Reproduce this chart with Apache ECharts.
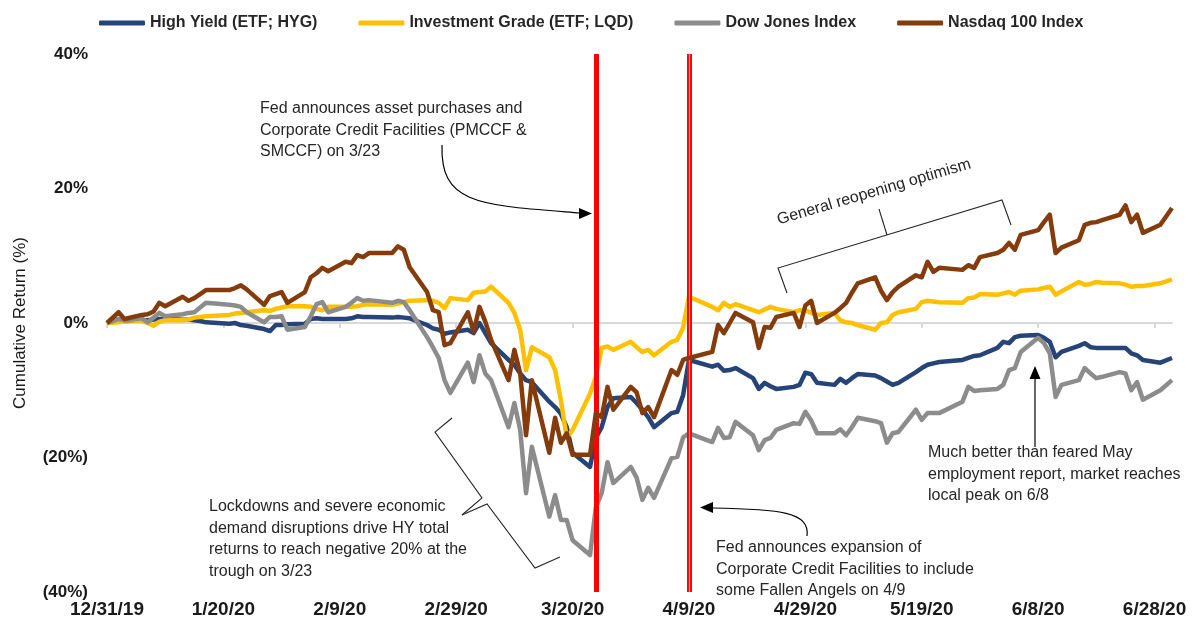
<!DOCTYPE html>
<html><head><meta charset="utf-8">
<script src="https://cdn.jsdelivr.net/npm/echarts@6/dist/echarts.min.js"></script>
<style>html,body{margin:0;padding:0;background:#fff}#c{width:1197px;height:627px}</style>
</head><body><div id="c"></div>
<script>
// Day offsets are counted from 12/31/19 (day 0); x axis ticks every 20 days.
const xTickLabels = ['12/31/19','1/20/20','2/9/20','2/29/20','3/20/20','4/9/20','4/29/20','5/19/20','6/8/20','6/28/20'];
const yTickLabels = ['(40%)','(20%)','0%','20%','40%'];
const seriesNames = ['High Yield (ETF; HYG)','Investment Grade (ETF; LQD)','Dow Jones Index','Nasdaq 100 Index'];
const eventDays = [84, 100]; // Fed 3/23 announcement line, Fed 4/9 expansion line

const highYield = [[0,0],[2,0.4],[3,0.3],[6,0.4],[7,0.4],[8,0.5],[9,0.6],[10,0.6],[13,0.5],[14,0.5],[15,0.4],[16,0.3],[17,0.1],[21,-0.1],[22,0.0],[23,-0.3],[24,-0.4],[27,-0.9],[28,-1.2],[29,-0.3],[30,-0.3],[31,-0.2],[34,-0.1],[35,0.6],[36,0.7],[37,0.6],[38,0.6],[41,0.6],[42,0.7],[43,1.0],[44,0.9],[45,0.9],[49,0.8],[50,0.9],[51,0.8],[52,0.7],[55,-0.3],[56,-0.8],[57,-1.0],[58,-1.6],[59,-1.4],[62,-1.0],[63,-1.5],[64,0.0],[65,-1.5],[66,-3.0],[69,-5.5],[70,-6.2],[71,-7.5],[72,-8.5],[73,-8.8],[76,-11.7],[77,-12.5],[78,-13.5],[79,-15.5],[80,-19.3],[83,-21.4],[84,-17.1],[85,-15.5],[86,-12.5],[87,-11.2],[90,-11.0],[91,-11.9],[92,-12.9],[93,-14.0],[94,-15.5],[97,-13.4],[98,-13.2],[99,-10.7],[100,-5.5],[104,-6.5],[105,-6.2],[106,-7.1],[107,-7.0],[108,-6.7],[111,-8.2],[112,-9.8],[113,-8.9],[114,-9.4],[115,-9.8],[118,-9.5],[119,-9.2],[120,-7.4],[121,-7.6],[122,-8.9],[125,-9.2],[126,-8.3],[127,-8.9],[128,-8.2],[129,-7.6],[132,-7.8],[133,-8.2],[134,-8.7],[135,-9.2],[136,-8.9],[139,-7.3],[140,-6.7],[141,-6.2],[142,-6.0],[143,-5.8],[147,-5.5],[148,-5.2],[149,-4.9],[150,-4.8],[153,-3.7],[154,-2.8],[155,-3.0],[156,-2.1],[157,-1.9],[160,-1.8],[161,-2.2],[162,-2.8],[163,-5.1],[164,-4.3],[167,-3.4],[168,-3.0],[169,-3.6],[170,-3.7],[171,-3.7],[174,-3.7],[175,-3.7],[176,-4.5],[177,-4.8],[178,-5.5],[181,-5.9],[183,-5.2]];

const investmentGrade = [[0,0],[2,0.1],[3,0.4],[6,0.3],[7,0.0],[8,-0.4],[9,0.2],[10,0.4],[13,0.4],[14,0.5],[15,0.8],[16,0.9],[17,1.0],[21,1.2],[22,1.4],[23,1.5],[24,1.6],[27,1.9],[28,1.8],[29,2.1],[30,2.3],[31,2.5],[34,2.5],[35,2.4],[36,2.1],[37,1.9],[38,2.4],[41,2.4],[42,2.4],[43,2.5],[44,2.7],[45,2.8],[49,2.7],[50,2.9],[51,3.1],[52,3.3],[55,3.4],[56,3.3],[57,3.0],[58,2.2],[59,3.7],[62,3.4],[63,4.5],[64,4.6],[65,4.7],[66,5.4],[69,3.0],[70,1.5],[71,-1.0],[72,-7.0],[73,-3.6],[76,-5.1],[77,-7.0],[78,-11.5],[79,-17.1],[80,-15.9],[83,-10.5],[84,-8.0],[85,-3.7],[86,-3.5],[87,-4.0],[90,-2.8],[91,-3.6],[92,-4.3],[93,-4.0],[94,-4.8],[97,-2.8],[98,-2.5],[99,-0.7],[100,3.9],[104,2.4],[105,1.9],[106,3.0],[107,2.4],[108,2.8],[111,1.9],[112,1.6],[113,2.0],[114,2.4],[115,2.1],[118,1.6],[119,1.9],[120,1.9],[121,1.5],[122,1.2],[125,1.5],[126,0.4],[127,0.1],[128,0.0],[129,-0.3],[132,-1.0],[133,0.0],[134,0.1],[135,1.2],[136,1.6],[139,2.1],[140,3.1],[141,3.3],[142,3.2],[143,3.1],[147,3.0],[148,3.7],[149,3.8],[150,4.3],[153,4.2],[154,4.4],[155,4.6],[156,4.2],[157,4.8],[160,5.0],[161,5.2],[162,5.4],[163,4.2],[164,4.7],[167,6.1],[168,5.7],[169,5.8],[170,6.1],[171,6.0],[174,5.9],[175,5.7],[176,5.4],[177,5.5],[178,5.5],[181,5.9],[183,6.5]];

const dowJones = [[0,0],[2,0.6],[3,0.4],[6,0.7],[7,0.1],[8,0.8],[9,1.5],[10,1.0],[13,1.3],[14,1.5],[15,1.6],[16,2.3],[17,3.0],[21,2.7],[22,2.6],[23,2.4],[24,1.6],[27,0.1],[28,0.9],[29,0.9],[30,1.0],[31,-1.0],[34,-0.6],[35,1.0],[36,2.8],[37,3.1],[38,1.6],[41,2.4],[42,3.0],[43,3.7],[44,3.3],[45,3.4],[49,3.0],[50,3.3],[51,3.1],[52,1.9],[55,-2.1],[56,-3.6],[57,-5.2],[58,-8.5],[59,-10.4],[62,-5.9],[63,-8.8],[64,-4.8],[65,-7.5],[66,-8.5],[69,-15.5],[70,-11.9],[71,-15.9],[72,-25.3],[73,-18.4],[76,-28.8],[77,-25.6],[78,-29.3],[79,-29.3],[80,-32.3],[83,-34.5],[84,-27.4],[85,-25.3],[86,-20.7],[87,-23.8],[90,-21.4],[91,-23.0],[92,-26.3],[93,-24.5],[94,-26.0],[97,-20.1],[98,-19.9],[99,-17.0],[100,-16.4],[104,-17.7],[105,-15.6],[106,-17.1],[107,-17.0],[108,-14.7],[111,-16.7],[112,-18.9],[113,-17.4],[114,-17.1],[115,-15.9],[118,-14.9],[119,-15.0],[120,-13.2],[121,-14.5],[122,-16.4],[125,-16.4],[126,-15.8],[127,-16.7],[128,-15.5],[129,-14.1],[132,-14.6],[133,-14.9],[134,-17.8],[135,-16.4],[136,-16.2],[139,-12.9],[140,-14.4],[141,-13.4],[142,-13.4],[143,-13.4],[147,-11.7],[148,-9.5],[149,-10.1],[150,-10.0],[153,-9.8],[154,-9.2],[155,-7.0],[156,-6.7],[157,-4.3],[160,-2.2],[161,-3.0],[162,-4.5],[163,-11.0],[164,-9.2],[167,-8.5],[168,-6.7],[169,-7.5],[170,-8.2],[171,-8.0],[174,-7.3],[175,-7.5],[176,-10.0],[177,-8.8],[178,-11.4],[181,-10.0],[183,-8.5]];

const nasdaq100 = [[0,0],[2,1.6],[3,0.6],[6,1.2],[7,1.3],[8,1.7],[9,3.0],[10,2.5],[13,3.9],[14,3.3],[15,3.7],[16,4.3],[17,4.9],[21,4.9],[22,5.2],[23,5.6],[24,5.0],[27,2.7],[28,4.0],[29,4.3],[30,4.6],[31,3.0],[34,4.6],[35,6.8],[36,7.4],[37,8.2],[38,7.7],[41,9.1],[42,8.9],[43,10.1],[44,9.8],[45,10.4],[49,10.4],[50,11.4],[51,10.9],[52,8.3],[55,4.6],[56,1.9],[57,1.6],[58,-3.3],[59,-3.0],[62,1.6],[63,-1.3],[64,2.4],[65,0.2],[66,-2.5],[69,-8.5],[70,-4.0],[71,-7.5],[72,-16.7],[73,-8.5],[76,-19.3],[77,-14.1],[78,-17.8],[79,-16.4],[80,-19.6],[83,-19.6],[84,-13.4],[85,-14.0],[86,-9.5],[87,-12.9],[90,-9.5],[91,-10.3],[92,-13.4],[93,-12.5],[94,-14.0],[97,-7.0],[98,-7.7],[99,-5.5],[100,-5.2],[104,-4.3],[105,-0.3],[106,-1.5],[107,0.0],[108,1.5],[111,0.1],[112,-3.7],[113,-0.6],[114,-0.7],[115,0.9],[118,1.5],[119,-0.6],[120,2.6],[121,3.3],[122,0.0],[125,1.5],[126,2.2],[127,3.0],[128,4.5],[129,5.9],[132,6.8],[133,4.8],[134,3.4],[135,4.6],[136,5.4],[139,7.1],[140,6.8],[141,9.1],[142,7.6],[143,8.2],[147,7.9],[148,8.6],[149,8.2],[150,9.8],[153,10.4],[154,10.9],[155,11.9],[156,10.9],[157,13.1],[160,13.8],[161,15.0],[162,16.1],[163,10.4],[164,11.2],[167,12.3],[168,14.6],[169,14.9],[170,15.0],[171,15.3],[174,16.1],[175,17.5],[176,15.0],[177,16.1],[178,13.4],[181,14.6],[183,17.1]];

const seriesData = [highYield, investmentGrade, dowJones, nasdaq100];
const colors = ['#264478', '#ffc000', '#8c8c8c', '#843c0c'];
const FONT = '"Liberation Sans", Arial, sans-serif';
const tickValues = xTickLabels.map((_, i) => i * 20);

const chart = echarts.init(document.getElementById('c'), null, {renderer: 'canvas'});

const series = seriesData.map((d, i) => ({
  name: seriesNames[i],
  type: 'line',
  data: d,
  showSymbol: false,
  symbol: 'none',
  lineStyle: {width: 4.5, color: colors[i], join: 'round'},
  itemStyle: {color: colors[i]},
  z: 2 + i
}));
series[0].markLine = {
  silent: true,
  symbol: ['none', 'none'],
  label: {show: false},
  animation: false,
  data: [
    {xAxis: eventDays[0], lineStyle: {color: '#ff0000', width: 5, type: 'solid'}},
    {xAxis: eventDays[1], lineStyle: {color: '#ff0000', width: 5, type: 'solid'}}
  ]
};
series.push({
  type: 'line', data: [], silent: true,
  markLine: {
    silent: true, symbol: ['none', 'none'], label: {show: false}, animation: false,
    data: [{xAxis: eventDays[1], lineStyle: {color: '#ff9a70', width: 1.2, type: 'solid'}}]
  }
});

const txt = (x, y, text, extra) => Object.assign({
  type: 'text', x, y, z: 100,
  style: {text, fontSize: 16, fontFamily: FONT, fill: '#262626', lineHeight: 21.5, verticalAlign: 'top'}
}, extra || {});
const stroke = {stroke: '#262626', lineWidth: 1.1, fill: null};

chart.setOption({
  animation: false,
  backgroundColor: '#fff',
  color: colors,
  grid: {left: 107, right: 25, top: 54, bottom: 35, containLabel: false},
  legend: {
    left: 94, top: 10, itemWidth: 46, itemHeight: 5, itemGap: 41,
    icon: 'roundRect',
    textStyle: {fontFamily: FONT, fontSize: 16, fontWeight: 'bold', color: '#262626'},
    data: seriesNames
  },
  xAxis: [{
    type: 'value', min: 0, max: 183, interval: 20, position: 'bottom',
    axisLine: {show: true, onZero: true, lineStyle: {color: '#d9d9d9', width: 2}},
    axisTick: {show: true, length: 5, customValues: tickValues, lineStyle: {color: '#d9d9d9', width: 2}},
    axisLabel: {show: false},
    splitLine: {show: false}
  }, {
    type: 'value', min: 0, max: 183, interval: 20, position: 'bottom',
    axisLine: {show: false, onZero: false},
    axisTick: {show: false},
    splitLine: {show: false},
    axisLabel: {
      show: true, margin: 8, customValues: tickValues,
      fontFamily: FONT, fontSize: 19, fontWeight: 'bold', color: '#1a1a1a',
      formatter: v => xTickLabels[Math.round(v / 20)] || ''
    }
  }],
  yAxis: {
    type: 'value', min: -40, max: 40, interval: 20,
    name: 'Cumulative Return (%)', nameLocation: 'middle', nameGap: 78,
    nameTextStyle: {fontFamily: FONT, fontSize: 17, color: '#1a1a1a'},
    axisLine: {show: false}, axisTick: {show: false}, splitLine: {show: false},
    axisLabel: {
      margin: 19, fontFamily: FONT, fontSize: 17, fontWeight: 'bold', color: '#1a1a1a',
      formatter: v => yTickLabels[Math.round((v + 40) / 20)]
    }
  },
  series,
  graphic: [
    txt(260, 98, 'Fed announces asset purchases and\nCorporate Credit Facilities (PMCCF &\nSMCCF) on 3/23'),
    {type: 'bezierCurve', z: 100, shape: {x1: 442, y1: 145, cpx1: 440, cpy1: 205, cpx2: 480, cpy2: 205, x2: 580, y2: 213}, style: {stroke: '#000', lineWidth: 1.2, fill: null}},
    {type: 'polygon', z: 100, shape: {points: [[592, 213.5], [579, 208], [579, 219]]}, style: {fill: '#000'}},

    {type: 'text', z: 100, x: 874, y: 192, rotation: 0.285,
      style: {text: 'General reopening optimism', fontSize: 16, fontFamily: FONT, fill: '#262626', align: 'center', verticalAlign: 'middle'}},
    {type: 'polyline', z: 100, shape: {points: [[787, 293], [778, 268], [1002, 200], [1011, 225]]}, style: stroke},
    {type: 'polyline', z: 100, shape: {points: [[887, 235], [879, 209]]}, style: stroke},

    txt(209, 496, 'Lockdowns and severe economic\ndemand disruptions drive HY total\nreturns to reach negative 20% at the\ntrough on 3/23'),
    {type: 'polyline', z: 100, shape: {points: [[452, 418], [435, 432], [482, 498], [462, 515]]}, style: stroke},
    {type: 'polyline', z: 100, shape: {points: [[462, 515], [487, 504], [535, 568], [560, 557]]}, style: stroke},

    txt(716, 537, 'Fed announces expansion of\nCorporate Credit Facilities to include\nsome Fallen Angels on 4/9'),
    {type: 'bezierCurve', z: 100, shape: {x1: 807, y1: 536, cpx1: 810, cpy1: 512, cpx2: 780, cpy2: 509, x2: 712, y2: 508}, style: {stroke: '#000', lineWidth: 1.2, fill: null}},
    {type: 'polygon', z: 100, shape: {points: [[700, 507.5], [713, 502], [713, 513]]}, style: {fill: '#000'}},

    txt(928, 442, 'Much better than feared May\nemployment report, market reaches\nlocal peak on 6/8'),
    {type: 'line', z: 100, shape: {x1: 1035, y1: 447, x2: 1035, y2: 378}, style: {stroke: '#000', lineWidth: 1.2}},
    {type: 'polygon', z: 100, shape: {points: [[1035, 366], [1029.5, 379], [1040.5, 379]]}, style: {fill: '#000'}}
  ]
});
</script></body></html>
